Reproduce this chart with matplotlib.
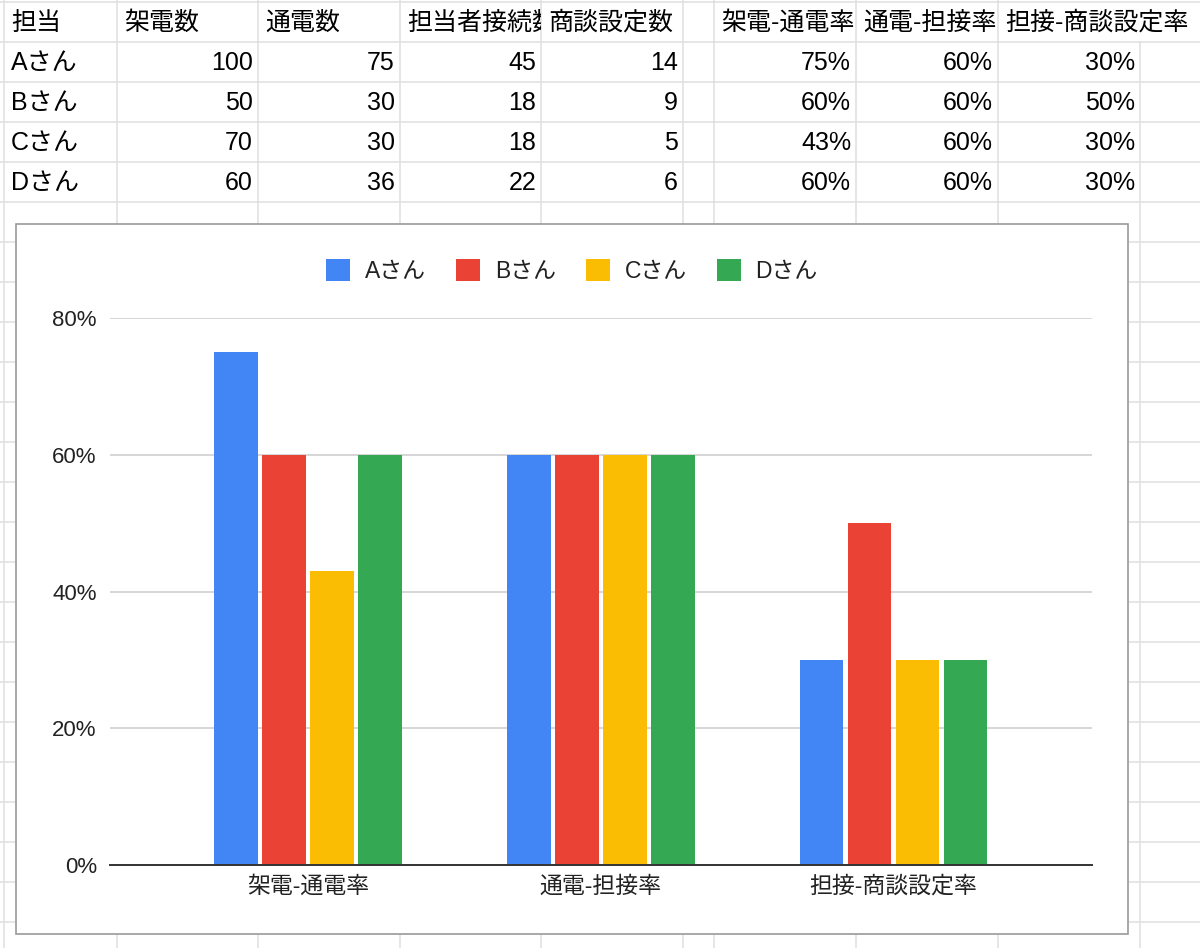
import matplotlib
matplotlib.use("Agg")
import matplotlib.pyplot as plt
from matplotlib.patches import Rectangle, Patch
from matplotlib.transforms import Bbox

plt.rcParams['font.family'] = ['Liberation Sans', 'Noto Sans CJK JP', 'DejaVu Sans']

# sheet data
headers = ['担当', '架電数', '通電数', '担当者接続数', '商談設定数', '',
           '架電-通電率', '通電-担接率', '担接-商談設定率']
names = ['Aさん', 'Bさん', 'Cさん', 'Dさん']
calls = [100, 50, 70, 60]
connected = [75, 30, 30, 36]
reached = [45, 18, 18, 22]
meetings = [14, 9, 5, 6]
rate_call = [0.75, 0.60, 0.43, 0.60]
rate_reach = [0.60, 0.60, 0.60, 0.60]
rate_meet = [0.30, 0.50, 0.30, 0.30]

categories = ['架電-通電率', '通電-担接率', '担接-商談設定率']
colors = ['#4285f4', '#ea4335', '#fbbc04', '#34a853']
yticks = [0, 0.2, 0.4, 0.6, 0.8]

W, H = 1200, 948
fig = plt.figure(figsize=(W / 100, H / 100), dpi=100)
fig.patch.set_facecolor('white')

# spreadsheet background in pixel coords
bg = fig.add_axes([0, 0, 1, 1])
bg.set_xlim(0, W)
bg.set_ylim(H, 0)
bg.axis('off')

col_edges = [4, 117, 258, 400, 541, 683, 714, 856, 998, 1140]
row_h = 40
row_top = 2
grid_c = '#e1e1e1'

for k in range(24):
    y = row_top + k * row_h
    bg.plot([0, W], [y, y], color=grid_c, lw=1.2, zorder=1)
for j, x in enumerate(col_edges):
    y0 = row_top + row_h if j == len(col_edges) - 1 else 0
    bg.plot([x, x], [y0, H], color=grid_c, lw=1.2, zorder=1)

rows = [headers]
for i in range(len(names)):
    rows.append([names[i], calls[i], connected[i], reached[i], meetings[i], '',
                 rate_call[i], rate_reach[i], rate_meet[i]])


def fmt(v, j):
    if isinstance(v, str):
        return v
    if j >= 6:
        return f"{v:.0%}"
    return str(v)


for r, row in enumerate(rows):
    yc = row_top + r * row_h + row_h / 2 + 1
    for j, v in enumerate(row):
        s = fmt(v, j)
        if s == '':
            continue
        x0 = col_edges[j]
        x1 = col_edges[j + 1]
        if isinstance(v, str):
            t = bg.text(x0 + 7, yc, s, ha='left', va='center', fontsize=18,
                        color='#000000', zorder=2)
        else:
            t = bg.text(x1 - 5, yc, s, ha='right', va='center', fontsize=18,
                        color='#000000', zorder=2)
        nxt = row[j + 1] if j + 1 < len(row) else ''
        if isinstance(v, str) and fmt(nxt, j + 1) != '':
            # text is cut at the cell edge when the next cell has content
            pts = bg.transData.transform([[x0, row_top + r * row_h],
                                          [x1, row_top + (r + 1) * row_h]])
            t.set_clip_box(Bbox.from_extents(pts[:, 0].min(), pts[:, 1].min(),
                                             pts[:, 0].max(), pts[:, 1].max()))
            t.set_clip_on(True)

# chart box
bg.add_patch(Rectangle((16, 224), 1112, 710, facecolor='white',
                       edgecolor='#9a9a9a', lw=1.2, zorder=3))

# chart axes
px_left, px_right, px_top, px_bottom = 110, 1092, 318, 865
ax = fig.add_axes([px_left / W, (H - px_bottom) / H,
                   (px_right - px_left) / W, (px_bottom - px_top) / H])
ax.patch.set_alpha(0)

series = [list(v) for v in zip(rate_call, rate_reach, rate_meet)]
step = 0.164
width = 0.150
xs = range(len(categories))
for i, name in enumerate(names):
    ax.bar([x + (i - 1.5) * step for x in xs], series[i], width=width,
           color=colors[i], label=name, zorder=3)

ax.set_xlim(-0.6764, 2.678)
ax.set_ylim(0, 0.8)
ax.set_yticks(yticks)
ax.set_yticklabels([f"{v:.0%}" for v in yticks])
ax.set_xticks(list(xs))
ax.set_xticklabels(categories)
ax.yaxis.grid(True, color='#cccccc', lw=1.1)
ax.set_axisbelow(True)
for s in ['top', 'right', 'left']:
    ax.spines[s].set_visible(False)
ax.spines['bottom'].set_color('#333333')
ax.spines['bottom'].set_linewidth(1.4)
ax.spines['bottom'].set_zorder(4)
ax.tick_params(axis='y', length=0, pad=9.5, labelsize=16, labelcolor='#222222')
ax.tick_params(axis='x', length=0, pad=7, labelsize=16.5, labelcolor='#222222')

handles = [Patch(facecolor=c, edgecolor='none', label=n) for c, n in zip(colors, names)]
leg = fig.legend(handles=handles, loc='center', bbox_to_anchor=(572 / W, 1 - 271 / H),
                 ncol=4, frameon=False, fontsize=16.5, handlelength=1.05,
                 handleheight=1.05, handletextpad=0.65, columnspacing=1.3)
for t in leg.get_texts():
    t.set_color('#222222')

fig.savefig('out.png', dpi=100)
